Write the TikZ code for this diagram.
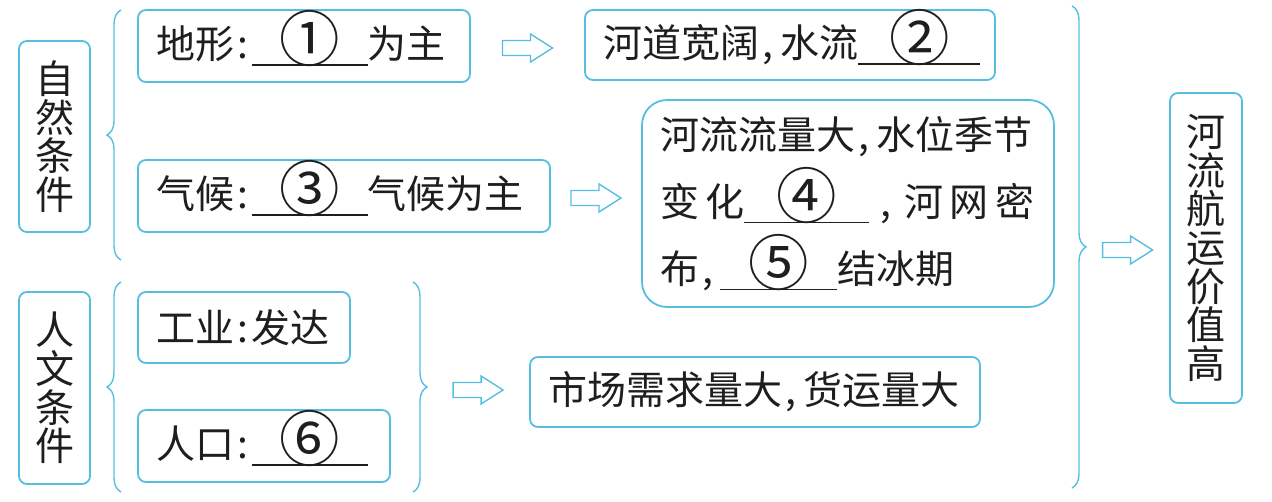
\documentclass[tikz,border=0pt]{standalone}
\usepackage{fontspec}
\setmainfont{Noto Sans CJK SC}
\usetikzlibrary{decorations.pathreplacing,calc}
\definecolor{bx}{RGB}{85,190,225}
\definecolor{tx}{RGB}{30,30,30}
\newcommand\blank[2]{\rlap{\rule[-7pt]{#1}{1.8pt}}\makebox[#1]{\smash{\raisebox{-2.5pt}{\scalebox{1.55}{#2}}}}}
\newcommand\cma{\makebox[0.55em][l]{\hspace{0.08em},}}
\newcommand\cln{\makebox[0.45em][c]{:}}
\tikzset{
  box/.style={draw=bx, line width=1.8pt, rounded corners=8pt, inner xsep=18pt, inner ysep=0pt,
    text=tx, align=left},
  vbox/.style={draw=bx, line width=1.8pt, rounded corners=8pt, inner xsep=0pt, inner ysep=0pt,
    text=tx, align=center, text width=40pt, font=\fontsize{39}{38.7}\selectfont},
  brc/.style={draw=bx, line width=1.4pt, decorate, decoration={brace, amplitude=14pt, aspect=0.5}},
  harrow/.pic={\draw[draw=bx, line width=1.4pt, line join=miter]
    (-25,-7.5) -- (3,-7.5) -- (3,-14) -- (25,0) -- (3,14) -- (3,7.5) -- (-25,7.5) -- cycle;}
}
\begin{document}
\begin{tikzpicture}[x=1pt,y=1pt,font=\fontsize{39}{39}\selectfont]
\useasboundingbox (0,0) rectangle (1272,-501);
% left column
\node[vbox, minimum width=71pt, minimum height=191pt] (nat) at (54.5,-136.5) {自\\然\\条\\件};
\node[vbox, minimum width=71pt, minimum height=192pt] (hum) at (54.5,-388) {人\\文\\条\\件};
% braces
\draw[brc] (121,-260) -- (121,-10);
\draw[brc] (121,-492) -- (121,-282);
\draw[brc] (413,-282) -- (413,-492);
\draw[brc] (1072,-6) -- (1072,-488);
\coordinate (t3) at (427,-390);
\coordinate (t4) at (1086,-248);
% second column
\node[box, text width=296pt, minimum width=332pt, minimum height=72pt] (dx) at (304,-46) {地形\cln\blank{116pt}{①}为主};
\node[box, text width=376pt, minimum width=412pt, minimum height=72pt] (qh) at (344,-196) {气候\cln\blank{116pt}{③}气候为主};
\node[box, text width=176pt, minimum width=212pt, minimum height=71pt] (gy) at (244,-327.5) {工业\cln 发达};
\node[box, text width=216pt, minimum width=252pt, minimum height=72pt] (rk) at (264,-446) {人口\cln\blank{116pt}{⑥}};
% third column
\node[box, text width=374pt, minimum width=410pt, minimum height=70pt] (hd) at (790,-45) {河道宽阔\cma 水流\blank{122pt}{②}};
\node[box, rounded corners=25pt, text width=376pt, minimum width=410pt, minimum height=207pt,
  font=\fontsize{39}{67}\selectfont] (hl) at (848,-203.5)
  {河流流量大\cma 水位季节\\
   \makebox[374pt][s]{变\hfil 化\blank{125pt}{④}\hspace{8pt}\cma\hfil 河\hfil 网\hfil 密}\\
   布\cma\blank{117pt}{⑤}结冰期};
\node[box, text width=414pt, minimum width=450pt, minimum height=70pt] (sc) at (755,-392) {市场需求量大\cma 货运量大};
% result
\node[vbox, minimum width=72pt, minimum height=310pt] (res) at (1206,-248) {河\\流\\航\\运\\价\\值\\高};
% arrows
\pic (a1) at ($(dx.east)!0.5!(dx.east -| hd.west)+(0,-2)$) {harrow};
\pic (a2) at ($(qh.east)!0.5!(qh.east -| hl.west)+(0,-2)$) {harrow};
\pic (a3) at ($(t4)!0.5!(t4 -| res.west)+(0,-2)$) {harrow};
\pic (a4) at ($(t3)!0.5!(t3 -| sc.west)$) {harrow};
\end{tikzpicture}
\end{document}
